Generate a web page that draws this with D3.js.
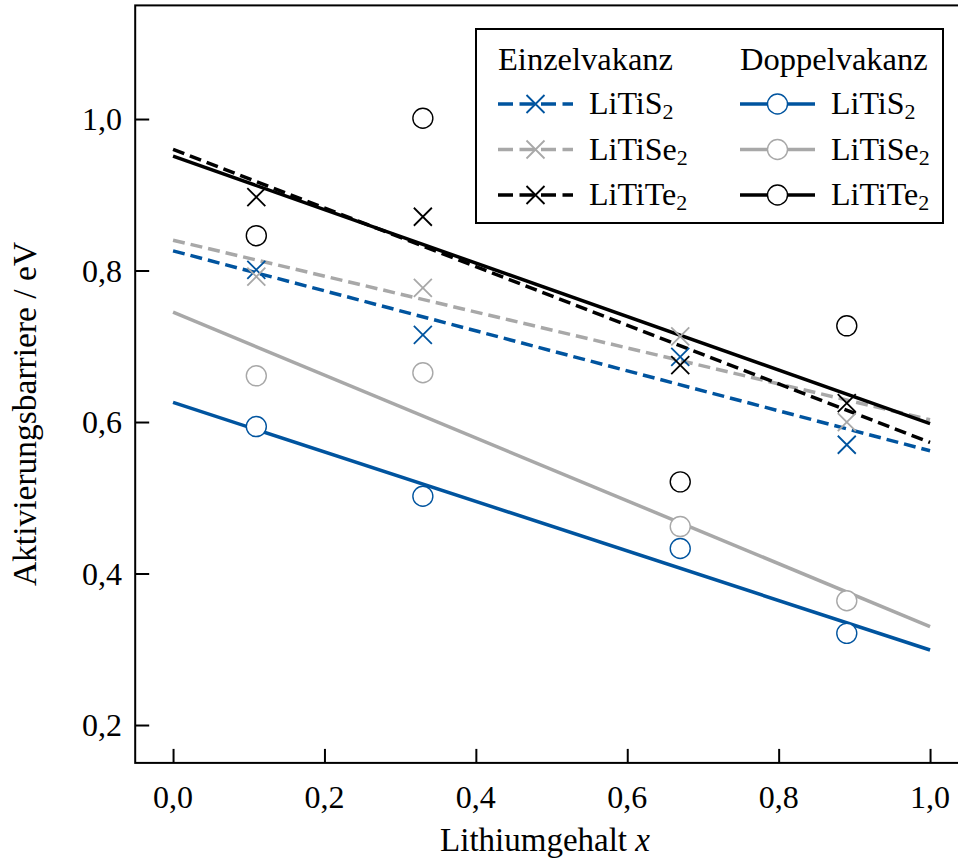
<!DOCTYPE html>
<html>
<head>
<meta charset="utf-8">
<script src="https://cdn.jsdelivr.net/npm/d3@7"></script>
<style>
  body { margin: 0; background: #fff; }
  svg text { font-family: "Liberation Serif", "DejaVu Serif", serif; fill: #000; }
</style>
</head>
<body>
<div id="chart"></div>
<script>
// Lithium content of the calculated structures
const lithiumContent = [0.11, 0.33, 0.67, 0.89]

// Einzelvakanz (single vacancy), eV
const singleS2 = [0.801, 0.715, 0.686, 0.570]
const singleSe2 = [0.792, 0.777, 0.713, 0.600]
const singleTe2 = [0.897, 0.871, 0.675, 0.625]

// Doppelvakanz (double vacancy), eV
const doubleS2 = [0.594, 0.502, 0.433, 0.321]
const doubleSe2 = [0.661, 0.665, 0.462, 0.364]
const doubleTe2 = [0.846, 1.001, 0.521, 0.727]

// Linear fits, evaluated at x = 0 and x = 1
const fitX = [0, 1]
const singleS2Fit = [0.826, 0.562]
const singleSe2Fit = [0.840, 0.603]
const singleTe2Fit = [0.960, 0.573]
const doubleS2Fit = [0.626, 0.299]
const doubleSe2Fit = [0.745, 0.330]
const doubleTe2Fit = [0.951, 0.598]

const xTicks = [0, 0.2, 0.4, 0.6, 0.8, 1.0]
const yTicks = [0.2, 0.4, 0.6, 0.8, 1.0]

const blue = "#00549f"
const grey = "#a8a8a8"
const black = "#000000"

const series = [
  { name: "S", values: singleS2, fit: singleS2Fit, colour: blue, marker: "cross", dashed: true },
  { name: "Se", values: singleSe2, fit: singleSe2Fit, colour: grey, marker: "cross", dashed: true },
  { name: "Te", values: singleTe2, fit: singleTe2Fit, colour: black, marker: "cross", dashed: true },
  { name: "S", values: doubleS2, fit: doubleS2Fit, colour: blue, marker: "circle", dashed: false },
  { name: "Se", values: doubleSe2, fit: doubleSe2Fit, colour: grey, marker: "circle", dashed: false },
  { name: "Te", values: doubleTe2, fit: doubleTe2Fit, colour: black, marker: "circle", dashed: false },
]

class ActivationChart {
  constructor(wrapper) {
    this.wrapper = d3.select(wrapper)
    this.dv = {}
    this.dimensions = { width: 958, height: 860 }
  }

  createDataVis() {
    this.setScales()
    this.initialiseDataVis()
    this.drawAxes()
    this.drawSeries()
    this.drawLegend()
  }

  setScales() {
    this.dv.xScale = d3.scaleLinear().domain([-0.05, 1.05]).range([135.2, 967.9])
    this.dv.yScale = d3.scaleLinear().domain([0.15, 1.15]).range([762.9, 5.4])
  }

  initialiseDataVis() {
    this.dv.svg = this.wrapper.append("svg")
      .attr("width", this.dimensions.width)
      .attr("height", this.dimensions.height)
    this.dv.bounds = this.dv.svg.append("g")
  }

  drawAxes() {
    const x = this.dv.xScale
    const y = this.dv.yScale
    const fmt = d => d3.format(".1f")(d).replace(".", ",")
    const [x0, x1] = x.range()
    const [y0, y1] = y.range()

    // ticks point inwards, like the original
    const xAxis = this.dv.bounds.append("g")
      .attr("transform", `translate(0,${y0})`)
      .call(d3.axisTop(x).tickValues(xTicks).tickSize(14).tickFormat(""))
    xAxis.select(".domain").remove()
    xAxis.selectAll("line").attr("stroke-width", 2)

    const yAxis = this.dv.bounds.append("g")
      .attr("transform", `translate(${x0},0)`)
      .call(d3.axisRight(y).tickValues(yTicks).tickSize(14).tickFormat(""))
    yAxis.select(".domain").remove()
    yAxis.selectAll("line").attr("stroke-width", 2)

    this.dv.bounds.append("rect")
      .attr("x", x0).attr("y", y1)
      .attr("width", x1 - x0).attr("height", y0 - y1)
      .attr("fill", "none").attr("stroke", "#000").attr("stroke-width", 2)

    this.dv.bounds.selectAll(".x-label")
      .data(xTicks)
      .enter().append("text")
      .attr("class", "x-label")
      .attr("x", d => x(d))
      .attr("y", 808)
      .attr("text-anchor", "middle")
      .style("font-size", "32px")
      .text(fmt)

    this.dv.bounds.selectAll(".y-label")
      .data(yTicks)
      .enter().append("text")
      .attr("class", "y-label")
      .attr("x", 122)
      .attr("y", d => y(d) + 11)
      .attr("text-anchor", "end")
      .style("font-size", "32px")
      .text(fmt)

    const xTitle = this.dv.bounds.append("text")
      .attr("x", 545).attr("y", 851)
      .attr("text-anchor", "middle")
      .style("font-size", "33px")
    xTitle.append("tspan").text("Lithiumgehalt ")
    xTitle.append("tspan").style("font-style", "italic").text("x")

    this.dv.bounds.append("text")
      .attr("transform", "translate(36,414) rotate(-90)")
      .attr("text-anchor", "middle")
      .style("font-size", "33.5px")
      .text("Aktivierungsbarriere / eV")
  }

  drawMarker(g, type, colour) {
    if (type === "cross") {
      g.append("path")
        .attr("d", "M-9,-9L9,9M-9,9L9,-9")
        .attr("stroke", colour).attr("stroke-width", 1.8).attr("fill", "none")
    } else {
      g.append("circle")
        .attr("r", 10)
        .attr("fill", "#fff").attr("stroke", colour).attr("stroke-width", 1.4)
    }
  }

  drawSeries() {
    const x = this.dv.xScale
    const y = this.dv.yScale
    const line = d3.line().x(d => x(d[0])).y(d => y(d[1]))

    this.dv.bounds.selectAll(".fit")
      .data(series)
      .enter().append("path")
      .attr("class", "fit")
      .attr("d", s => line(fitX.map((fx, i) => [fx, s.fit[i]])))
      .attr("fill", "none")
      .attr("stroke", s => s.colour)
      .attr("stroke-width", 3.5)
      .attr("stroke-dasharray", s => s.dashed ? "12,6" : null)

    series.forEach(s => {
      s.values.forEach((v, i) => {
        const g = this.dv.bounds.append("g")
          .attr("transform", `translate(${x(lithiumContent[i])},${y(v)})`)
        this.drawMarker(g, s.marker, s.colour)
      })
    })
  }

  drawLegend() {
    const legend = this.dv.bounds.append("g")
    legend.append("rect")
      .attr("x", 476).attr("y", 29)
      .attr("width", 467).attr("height", 194)
      .attr("fill", "#fff").attr("stroke", "#000").attr("stroke-width", 2)

    const columns = [
      { title: "Einzelvakanz", x: 498, items: series.slice(0, 3) },
      { title: "Doppelvakanz", x: 740, items: series.slice(3) },
    ]

    columns.forEach(col => {
      legend.append("text")
        .attr("x", col.x).attr("y", 70)
        .style("font-size", "32.5px")
        .text(col.title)

      col.items.forEach((s, i) => {
        const ly = 104 + i * 45.5
        legend.append("line")
          .attr("x1", col.x).attr("x2", col.x + 75)
          .attr("y1", ly).attr("y2", ly)
          .attr("stroke", s.colour).attr("stroke-width", 3.5)
          .attr("stroke-dasharray", s.dashed ? "15,6.5" : null)
        this.drawMarker(legend.append("g").attr("transform", `translate(${col.x + 37.5},${ly})`), s.marker, s.colour)

        const t = legend.append("text")
          .attr("x", col.x + 91).attr("y", ly + 10)
          .style("font-size", "32px")
        t.append("tspan").text("LiTi" + s.name)
        t.append("tspan").attr("dy", 5).style("font-size", "22px").text("2")
      })
    })
  }
}

new ActivationChart("#chart").createDataVis()
</script>
</body>
</html>
